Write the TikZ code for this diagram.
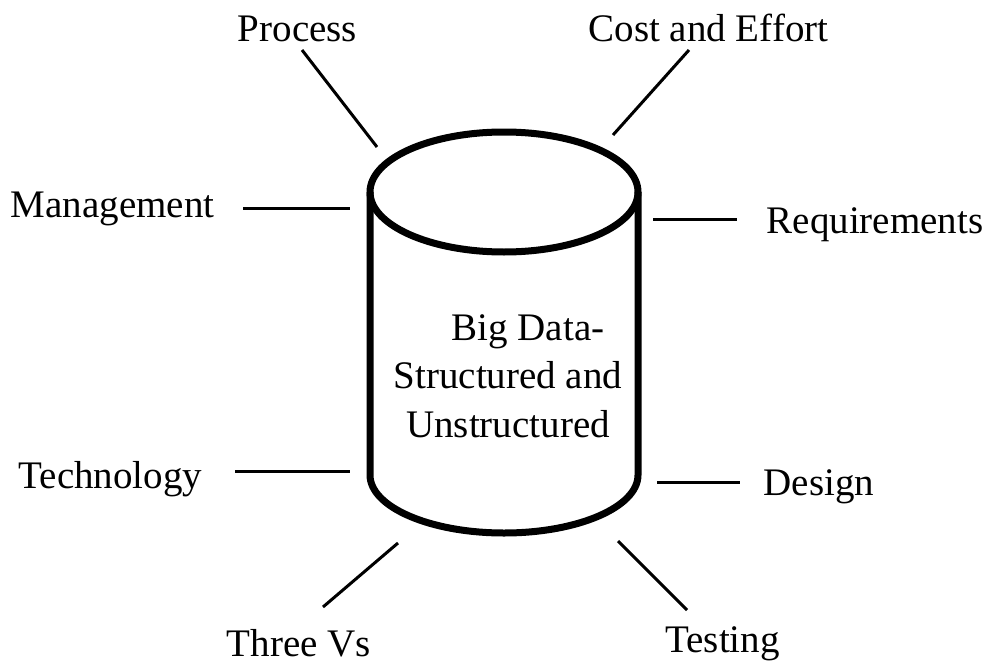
\documentclass[tikz,border=0pt]{standalone}
\usepackage{fontspec}
\setmainfont{Liberation Serif}

\tikzstyle{bigfig}=[x=0.2mm,y=-0.2mm]
\tikzstyle{rim}=[line width=1.4mm,line join=round]
\tikzstyle{spoke}=[line width=0.6mm]
\tikzstyle{topic}=[anchor=base,inner sep=0pt,font=\fontsize{22.2}{26}\selectfont]

\begin{document}
\begin{tikzpicture}[style=bigfig]
\useasboundingbox (0,0) rectangle (990,662);

% the data store
\draw[rim] (504,192) ellipse[x radius=134,y radius=60];
\draw[rim] (370,192) -- (370,475)
    arc[start angle=180,end angle=0,x radius=134,y radius=58] -- (638,192);
\node[align=center,inner sep=0pt,font=\fontsize{22.2}{27.5}\selectfont] (store) at (508,376)
    {\hspace*{8mm}Big Data-\\Structured and\\Unstructured};

% topics round it
\node[topic] (process) at (297.5,42) {Process};
\node[topic] (cost) at (708.5,42) {Cost and Effort};
\node[topic] (mgmt) at (112.5,217) {Management};
\node[topic] (req) at (875,233) {Requirements};
\node[topic] (tech) at (110.5,488) {Technology};
\node[topic] (design) at (819,495) {Design};
\node[topic] (vs) at (299,656) {Three Vs};
\node[topic] (testing) at (722.5,652) {Testing};

\foreach \n/\xa/\ya/\xb/\yb in {process/302/50/377/147, cost/689/50/613/135,
    mgmt/243/208/350/208, req/653/219/737/219, tech/235/471/350/471,
    design/657/482/740/482, vs/323/607/398/543, testing/618/541/687/610}{% spokes
    \coordinate (\n-a) at (\xa,\ya);
    \coordinate (\n-b) at (\xb,\yb);
    \draw[spoke] (\n-a) -- (\n-b);
}

\end{tikzpicture}
\end{document}
